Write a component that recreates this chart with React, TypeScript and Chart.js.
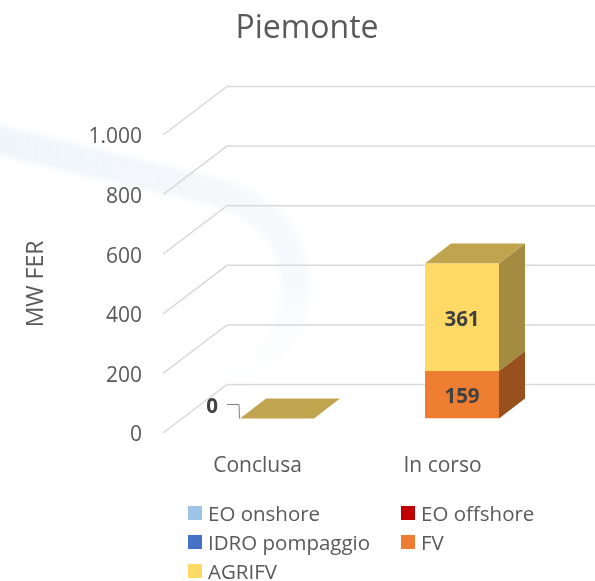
import React, { useEffect, useRef } from "react";
import { Chart, registerables } from "chart.js";

Chart.register(...registerables);

const categories = ["Conclusa", "In corso"];
const seriesNames = ["EO onshore", "EO offshore", "IDRO pompaggio", "FV", "AGRIFV"];
const eoOnshore = [0, 0];
const eoOffshore = [0, 0];
const idroPompaggio = [0, 0];
const fv = [0, 159];
const agrifv = [0, 361];
const yTicks = [0, 200, 400, 600, 800, 1000];
const seriesValues = [eoOnshore, eoOffshore, idroPompaggio, fv, agrifv];

const frontColors = ["#9DC3E6", "#C00000", "#4472C4", "#ED7D31", "#FFD966"];
const sideColors = ["#5E7D9A", "#800000", "#2B4A80", "#99501F", "#A38B42"];
const topColors = ["#7E9CB8", "#990000", "#365B9C", "#BD6427", "#C1A54E"];

const FONT = "'Open Sans', sans-serif";
const TEXT = "#595959";
const depthFront = { dx: 19.5, dy: -14.5 };
const depthBar = { dx: 26, dy: -20 };
const wall = { dx: 64, dy: -48.5, inset: 2 };

const thousands = (v: number) => (v >= 1000 ? String(v).replace(/(\d)(\d{3})$/, "$1.$2") : String(v));

const scene = {
  id: "scene3d",
  afterLayout(chart: any) {
    chart.titleBlock.left = 19;
    chart.titleBlock.right = 595;
  },
  beforeDraw(chart: any) {
    const { ctx } = chart;
    ctx.save();
    ctx.filter = "blur(3px)";
    ctx.lineCap = "butt";
    ctx.lineJoin = "round";
    const g = ctx.createLinearGradient(0, 130, 300, 130);
    g.addColorStop(0, "rgba(226,237,246,0.55)");
    g.addColorStop(0.75, "rgba(232,238,245,0.42)");
    g.addColorStop(1, "rgba(232,238,245,0.35)");
    ctx.strokeStyle = g;
    ctx.lineWidth = 29;
    ctx.beginPath();
    ctx.moveTo(-10, 138);
    ctx.lineTo(195, 187);
    ctx.bezierCurveTo(255, 200, 290, 225, 296, 280);
    ctx.stroke();
    const g2 = ctx.createLinearGradient(0, 280, 0, 390);
    g2.addColorStop(0, "rgba(232,238,245,0.35)");
    g2.addColorStop(1, "rgba(240,243,248,0)");
    ctx.strokeStyle = g2;
    ctx.beginPath();
    ctx.moveTo(296, 279);
    ctx.bezierCurveTo(298, 330, 270, 365, 215, 395);
    ctx.stroke();
    ctx.restore();
  },
  beforeDatasetsDraw(chart: any) {
    const { ctx, chartArea, scales } = chart;
    const y = scales.y;
    ctx.save();
    ctx.strokeStyle = "#D9D9D9";
    ctx.lineWidth = 1.5;
    yTicks.forEach((t) => {
      const py = y.getPixelForValue(t);
      const fx = chartArea.left - wall.inset;
      ctx.beginPath();
      ctx.moveTo(fx, py);
      ctx.lineTo(fx + wall.dx, py + wall.dy);
      ctx.lineTo(chart.width, py + wall.dy);
      ctx.stroke();
    });
    ctx.translate(depthFront.dx, depthFront.dy);
    seriesValues.forEach((_, di) => {
      chart.getDatasetMeta(di).data.forEach((bar: any) => {
        if (bar.base === bar.y) return;
        const r = bar.x + bar.width / 2;
        ctx.fillStyle = sideColors[di];
        ctx.beginPath();
        ctx.moveTo(r, bar.y);
        ctx.lineTo(r + depthBar.dx, bar.y + depthBar.dy);
        ctx.lineTo(r + depthBar.dx, bar.base + depthBar.dy);
        ctx.lineTo(r, bar.base);
        ctx.closePath();
        ctx.fill();
      });
    });
    const last = seriesValues.length - 1;
    chart.getDatasetMeta(last).data.forEach((bar: any) => {
      const l = bar.x - bar.width / 2;
      const r = bar.x + bar.width / 2;
      ctx.fillStyle = topColors[last];
      ctx.beginPath();
      ctx.moveTo(l, bar.y);
      ctx.lineTo(l + depthBar.dx, bar.y + depthBar.dy);
      ctx.lineTo(r + depthBar.dx, bar.y + depthBar.dy);
      ctx.lineTo(r, bar.y);
      ctx.closePath();
      ctx.fill();
    });
    // the front faces are drawn by Chart.js inside this same shifted frame
  },
  afterDatasetsDraw(chart: any) {
    const { ctx } = chart;
    ctx.textAlign = "center";
    ctx.textBaseline = "middle";
    ctx.font = `bold 20.5px ${FONT}`;
    ctx.fillStyle = "#404040";
    seriesValues.forEach((vals, di) => {
      chart.getDatasetMeta(di).data.forEach((bar: any, i: number) => {
        if (vals[i] !== 0) ctx.fillText(String(vals[i]), bar.x, (bar.y + bar.base) / 2 + 2.5);
      });
    });
    const last = seriesValues.length - 1;
    categories.forEach((_, i) => {
      const total = seriesValues.reduce((s, vals) => s + vals[i], 0);
      if (total !== 0) return;
      const bar = chart.getDatasetMeta(last).data[i];
      const l = bar.x - bar.width / 2;
      ctx.fillStyle = "#404040";
      ctx.fillText("0", l - 28, bar.y - 11.5);
      ctx.strokeStyle = "#7F7F7F";
      ctx.lineWidth = 1;
      ctx.beginPath();
      ctx.moveTo(l - 13, bar.y - 14);
      ctx.lineTo(l - 1, bar.y - 14);
      ctx.lineTo(l - 0.5, bar.y);
      ctx.stroke();
    });
    ctx.restore();
  },
};

export default function App() {
  const ref = useRef<HTMLCanvasElement>(null);
  useEffect(() => {
    document.body.style.margin = "0";
    const chart = new Chart(ref.current!, {
      type: "bar",
      data: {
        labels: categories,
        datasets: seriesNames.map((name, i) => ({
          label: name,
          data: seriesValues[i],
          backgroundColor: frontColors[i],
          barPercentage: 0.4,
          categoryPercentage: 1,
          borderWidth: 0,
        })),
      },
      plugins: [scene],
      options: {
        responsive: false,
        animation: false,
        layout: { padding: { left: 19, right: 60, top: 0, bottom: 0 } },
        scales: {
          x: {
            stacked: true,
            grid: { display: false },
            border: { display: false },
            ticks: { color: TEXT, font: { family: FONT, size: 21 }, padding: 12, maxRotation: 0 },
            afterFit(s: any) {
              s.height = 148;
            },
          },
          y: {
            stacked: true,
            min: 0,
            max: 1000,
            afterBuildTicks(s: any) {
              s.ticks = yTicks.map((value) => ({ value }));
            },
            grid: { display: false, drawTicks: false },
            border: { display: false },
            ticks: {
              color: TEXT,
              font: { family: FONT, size: 21 },
              padding: 23,
              labelOffset: 2.5,
              callback: (v: any) => thousands(Number(v)),
            },
            title: {
              display: true,
              text: "MW FER",
              color: TEXT,
              font: { family: FONT, size: 23 },
              padding: { top: 4, bottom: 0 },
            },
            afterFit(s: any) {
              s.width = 146;
            },
          },
        },
        plugins: {
          legend: { display: false },
          tooltip: { enabled: false },
          title: {
            display: true,
            text: "Piemonte",
            color: TEXT,
            font: { family: FONT, size: 32, weight: "normal" },
            padding: { top: 10, bottom: 86.6 },
          },
        },
      } as any,
    });
    return () => chart.destroy();
  }, []);

  return (
    <div style={{ position: "relative", width: 595, height: 581, background: "#fff", overflow: "hidden" }}>
      <canvas ref={ref} width={595} height={581} style={{ display: "block" }} />
      <div
        style={{
          position: "absolute",
          left: 188,
          top: 499,
          display: "grid",
          gridTemplateColumns: "213px auto",
          gridAutoRows: "28.8px",
          alignItems: "center",
          font: `20.5px ${FONT}`,
          color: TEXT,
          whiteSpace: "nowrap",
        }}
      >
        {seriesNames.map((n, i) => (
          <div key={n} style={{ display: "flex", alignItems: "center" }}>
            <span style={{ width: 14, height: 14, background: frontColors[i], marginRight: 6 }} />
            {n}
          </div>
        ))}
      </div>
    </div>
  );
}
